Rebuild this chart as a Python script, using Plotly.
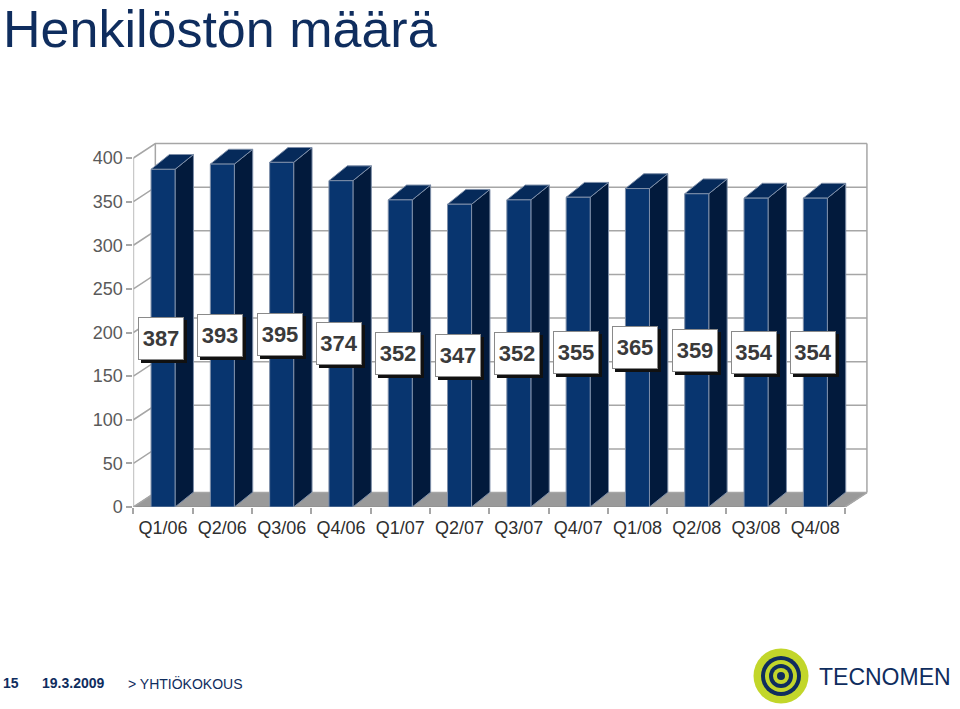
import plotly.graph_objects as go

# ---------------- data ----------------
categories = ["Q1/06", "Q2/06", "Q3/06", "Q4/06", "Q1/07", "Q2/07",
              "Q3/07", "Q4/07", "Q1/08", "Q2/08", "Q3/08", "Q4/08"]
headcount = [387, 393, 395, 374, 352, 347, 352, 355, 365, 359, 354, 354]
y_tick_values = [0, 50, 100, 150, 200, 250, 300, 350, 400]

title_text = "Henkilöstön määrä"
footer_page = "15"
footer_date = "19.3.2009"
footer_event = "> YHTIÖKOKOUS"
brand_name = "TECNOMEN"

# ---------------- geometry / style ----------------
W = 960
TARGET_H = 709
H = 719                      # figure height (page is squeezed to 709 in capture)
SY = H / TARGET_H            # target-image px -> figure px (vertical)


def fy(p):
    return p * SY


X_LEFT_PX, X_STEP_PX = 133.4, 59.3
Y0_PX, Y_PX_PER_UNIT = 507.0, 0.8725
X_RANGE = [-0.5, 11.9]
Y_RANGE = [0, 420]
plot_left = X_LEFT_PX
plot_right = X_LEFT_PX + (X_RANGE[1] - X_RANGE[0]) * X_STEP_PX
plot_bottom = fy(Y0_PX)
plot_top = fy(Y0_PX - Y_RANGE[1] * Y_PX_PER_UNIT)

DXW, DYW = 0.37, 16.6     # wall depth (x units, y units)
DXB, DYB = 0.31, 17.0     # bar depth
HW = 0.2025               # half front width of a bar

FRONT = "#08356f"
SIDE = "#021a3c"
TOP = "#062a5a"
EDGE = "#7d8ea8"
GRID = "#a6a6a6"
FLOOR = "#9a9a9a"
NAVY = "#0f2d5e"
FONT = "Liberation Sans, Arial, sans-serif"

n = len(categories)
xs = list(range(n))
first, last = xs[0] - 0.5, xs[-1] + 0.5

fig = go.Figure()

# floor
fig.add_trace(go.Scatter(
    x=[first, last, last + DXW, first + DXW, first],
    y=[0, 0, DYW, DYW, 0],
    mode="lines", fill="toself", fillcolor=FLOOR,
    line=dict(color="#8c8c8c", width=1), hoverinfo="skip", showlegend=False))

# walls: side diagonals, back wall horizontals, verticals
gx, gy = [], []
for v in y_tick_values:
    gx += [first, first + DXW, last + DXW, None]
    gy += [v, v + DYW, v + DYW, None]
gx += [first + DXW, first + DXW, None, last + DXW, last + DXW, None]
gy += [DYW, y_tick_values[-1] + DYW, None, 0 + DYW, y_tick_values[-1] + DYW, None]
gx += [last, last + DXW, None]
gy += [0, DYW, None]
fig.add_trace(go.Scatter(x=gx, y=gy, mode="lines", line=dict(color=GRID, width=1.5),
                         hoverinfo="skip", showlegend=False))
# front value axis line
fig.add_trace(go.Scatter(x=[first, first], y=[0, y_tick_values[-1]], mode="lines",
                         line=dict(color=GRID, width=1.5), hoverinfo="skip", showlegend=False))

# bars
sx, sy, tx, ty, fxs, fys = [], [], [], [], [], []
for i, v in zip(xs, headcount):
    r, l = i + HW, i - HW
    sx += [r, r + DXB, r + DXB, r, r, None]
    sy += [0, DYB, v + DYB, v, 0, None]
    tx += [l, r, r + DXB, l + DXB, l, None]
    ty += [v, v, v + DYB, v + DYB, v, None]
    fxs += [l, r, r, l, l, None]
    fys += [0, 0, v, v, 0, None]
for px_, py_, col in [(sx, sy, SIDE), (tx, ty, TOP), (fxs, fys, FRONT)]:
    fig.add_trace(go.Scatter(x=px_, y=py_, mode="lines", fill="toself", fillcolor=col,
                             line=dict(color=EDGE, width=1), hoverinfo="skip",
                             showlegend=False))

# value labels
annotations = []
for i, v in zip(xs, headcount):
    annotations.append(dict(x=i, y=v / 2, xref="x", yref="y", text=" ", showarrow=False,
                            width=42, height=39, bgcolor="#111111", bordercolor="#111111",
                            borderwidth=1, borderpad=1, xshift=1, yshift=-3))
    annotations.append(dict(x=i, y=v / 2, xref="x", yref="y", text=f"<b>{v}</b>",
                            showarrow=False, width=42, height=39, bgcolor="white",
                            bordercolor="#8a8a8a", borderwidth=1, borderpad=1, xshift=-2,
                            font=dict(family=FONT, size=22, color="#3a3a3a")))


def px_x(p):
    return p / W


def px_y(p):
    return 1 - fy(p) / H


# title and footer
annotations += [
    dict(x=px_x(1), y=1, xref="paper", yref="paper", xanchor="left", yanchor="top", yshift=2,
         text=title_text, showarrow=False, font=dict(family=FONT, size=52, color=NAVY)),
    dict(x=px_x(1), y=px_y(683), xref="paper", yref="paper", xanchor="left", yanchor="middle",
         text=f"<b>{footer_page}</b>", showarrow=False, font=dict(family=FONT, size=14, color=NAVY)),
    dict(x=px_x(40), y=px_y(683), xref="paper", yref="paper", xanchor="left", yanchor="middle",
         text=f"<b>{footer_date}</b>", showarrow=False, font=dict(family=FONT, size=14, color=NAVY)),
    dict(x=px_x(126), y=px_y(683), xref="paper", yref="paper", xanchor="left", yanchor="middle",
         text=footer_event, showarrow=False, font=dict(family=FONT, size=14, color=NAVY)),
    dict(x=px_x(817), y=px_y(677), xref="paper", yref="paper", xanchor="left", yanchor="middle",
         text=brand_name, showarrow=False, font=dict(family=FONT, size=23, color=NAVY)),
]

# logo rings
shapes = []
cx, cy = 781, 676
for rad, col in [(27.5, "#c2d62a"), (20, NAVY), (16, "#c2d62a"), (12, NAVY), (8, "#c2d62a"), (4, NAVY)]:
    shapes.append(dict(type="circle", xref="paper", yref="paper",
                       x0=px_x(cx - rad), x1=px_x(cx + rad), y0=px_y(cy + rad), y1=px_y(cy - rad),
                       fillcolor=col, line=dict(width=0), layer="above"))

fig.update_layout(
    width=W, height=H, margin=dict(l=0, r=0, t=0, b=0),
    paper_bgcolor="white", plot_bgcolor="white", showlegend=False,
    annotations=annotations, shapes=shapes,
    xaxis=dict(domain=[plot_left / W, plot_right / W], range=X_RANGE,
               tickvals=xs, ticktext=categories, ticks="", showgrid=False, zeroline=False,
               showline=False, tickfont=dict(family=FONT, size=18, color="#2e2e2e"),
               ticklabelstandoff=8,
               minor=dict(tickvals=[x - 0.5 for x in xs] + [last], ticks="outside",
                          ticklen=6, tickcolor=GRID, tickwidth=1.5, showgrid=False),
               fixedrange=True),
    yaxis=dict(domain=[1 - plot_bottom / H, 1 - plot_top / H], range=Y_RANGE,
               tickvals=y_tick_values, ticks="outside", ticklen=6, tickcolor=GRID, tickwidth=1.5,
               showgrid=False, zeroline=False, showline=False,
               tickfont=dict(family=FONT, size=18, color="#5a5a5a"), fixedrange=True),
)

page_fix = ("var d=document.documentElement,b=document.body;"
            "d.style.margin='0';d.style.padding='0';"
            "b.style.margin='0';b.style.padding='0';")
fig.write_html("out.html", post_script=page_fix, config={"displayModeBar": False})
